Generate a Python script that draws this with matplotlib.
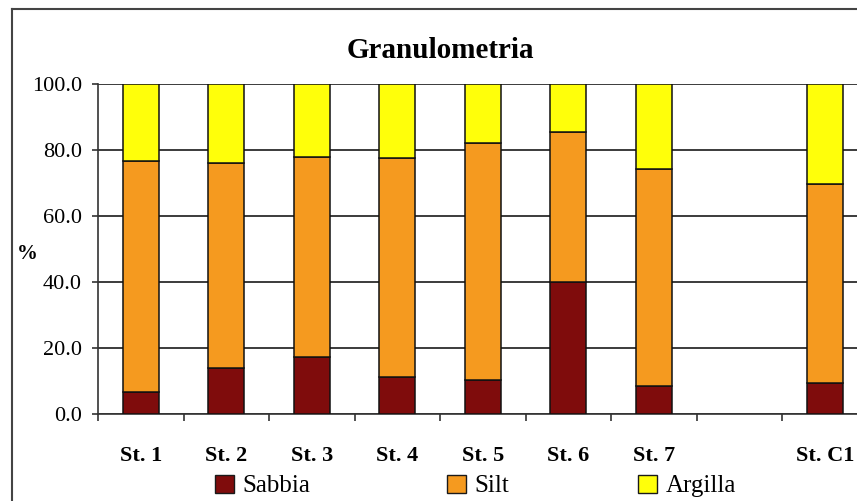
"""
Stacked bar chart of grain size fractions per station
"""
import numpy as np
import matplotlib
matplotlib.use('Agg')
import matplotlib.pyplot as plt
from matplotlib.patches import Patch
from matplotlib.lines import Line2D

# Data (percent); the empty slot between St. 7 and St. C1 has no sample
stations = ['St. 1', 'St. 2', 'St. 3', 'St. 4', 'St. 5', 'St. 6', 'St. 7', '', 'St. C1']
sabbia = [6.8, 13.9, 17.4, 11.3, 10.3, 40.0, 8.5, np.nan, 9.3]
silt = [70.0, 62.1, 60.5, 66.3, 71.8, 45.5, 65.8, np.nan, 60.5]
argilla = [23.2, 24.0, 22.1, 22.4, 17.9, 14.5, 25.7, np.nan, 30.2]
y_ticks = [0, 20, 40, 60, 80, 100]

series = [('Sabbia', sabbia, '#7f0c0c'),
          ('Silt', silt, '#f59a1f'),
          ('Argilla', argilla, '#ffff0a')]

plt.rcParams['font.family'] = 'serif'
plt.rcParams['font.serif'] = ['Liberation Serif', 'Noto Serif', 'DejaVu Serif']

W, H = 857, 501
fig = plt.figure(figsize=(W / 100, H / 100), dpi=100)
ax = fig.add_axes([98 / W, 1 - 414 / H, 769.5 / W, 329.7 / H])

x = np.arange(len(stations))
bottom = np.zeros(len(stations))
for name, vals, color in series:
    vals = np.array(vals, dtype=float)
    ax.bar(x, vals, width=0.42, bottom=bottom, color=color,
           edgecolor='#111111', linewidth=1.1, zorder=3)
    bottom = bottom + vals

ax.set_xlim(-0.5, len(stations) - 0.5)
ax.set_ylim(0, 100)

# horizontal gridlines
ax.set_yticks(y_ticks)
ax.set_yticklabels([f'{v:.1f}' for v in y_ticks], fontsize=16)
ax.yaxis.grid(True, color='#1a1a1a', linewidth=1.2, zorder=1)
ax.set_axisbelow(True)

# category labels in the middle, tick marks on slot boundaries
ax.set_xticks(x)
ax.set_xticklabels(stations, fontsize=16, fontweight='bold')
ax.tick_params(axis='x', which='major', length=0, pad=23)
ax.set_xticks(np.arange(len(stations) + 1) - 0.5, minor=True)
ax.tick_params(axis='x', which='minor', length=5, width=1.2, color='#333333')
ax.tick_params(axis='y', length=4.5, width=1.2, color='#333333', pad=7)

for side in ['top', 'right']:
    ax.spines[side].set_visible(False)
for side in ['left', 'bottom']:
    ax.spines[side].set_color('#333333')
    ax.spines[side].set_linewidth(1.2)

ax.set_ylabel('%', fontsize=15, fontweight='bold', rotation=0, va='center')
ax.yaxis.set_label_coords(-71 / 769.5, 0.485)

fig.text(440 / W, 1 - 50 / H, 'Granulometria', fontsize=21, fontweight='bold',
         ha='center', va='center')

# legend entries laid out in fixed columns
legend_x = [215, 447, 638]
for (name, vals, color), lx in zip(series, legend_x):
    fig.legend(handles=[Patch(facecolor=color, edgecolor='#1a1a1a', linewidth=1.0)],
               labels=[name], loc='center left',
               bbox_to_anchor=(lx / W, 1 - 486 / H), frameon=False,
               fontsize=18, handlelength=0.75, handleheight=0.75,
               handletextpad=0.35, borderpad=0, borderaxespad=0)

# outer chart border
fig.add_artist(Line2D([12 / W, 12 / W], [0, 1 - 9 / H], color='#444444', linewidth=1.5))
fig.add_artist(Line2D([12 / W, 1], [1 - 9 / H, 1 - 9 / H], color='#444444', linewidth=1.5))

fig.savefig('out.png', dpi=100)
